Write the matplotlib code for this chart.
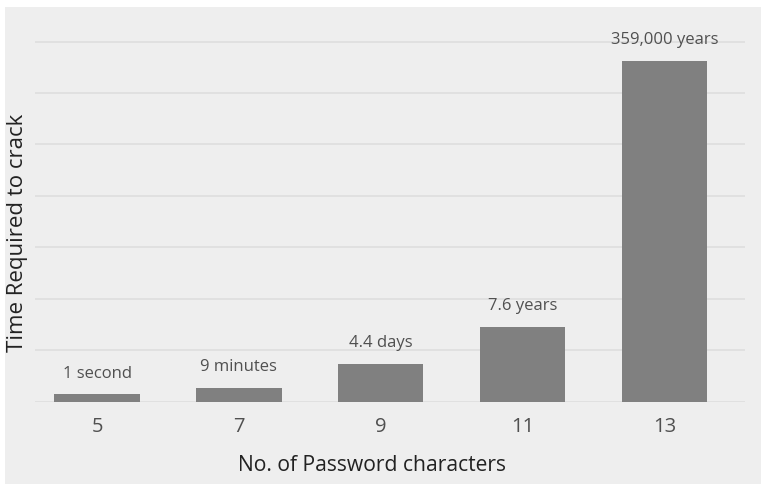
import matplotlib
matplotlib.use("Agg")
import matplotlib.pyplot as plt
from matplotlib.patches import Rectangle

# Chart data (bar heights, arbitrary units)
char_counts = ["5", "7", "9", "11", "13"]
crack_heights = [0.14, 0.26, 0.74, 1.45, 6.62]
crack_labels = ["1 second", "9 minutes", "4.4 days", "7.6 years", "359,000 years"]

BG = "#eeeeee"
BAR = "#808080"
GRID = "#dcdcdc"

plt.rcParams["font.family"] = ["Open Sans", "DejaVu Sans"]


def plot_crack_times():
    fig = plt.figure(figsize=(7.61, 4.85), dpi=100, facecolor="white")
    # gray panel behind everything, with a thin white border top/left
    panel = Rectangle((5 / 761, 0), 1 - 5 / 761, 1 - 8 / 485,
                      transform=fig.transFigure, facecolor=BG,
                      edgecolor="none", zorder=-10)
    fig.add_artist(panel)

    ax = fig.add_axes([35 / 761, (485 - 402.7) / 485, 710 / 761, (402.7 - 22) / 485])
    ax.set_facecolor(BG)

    x = list(range(len(char_counts)))
    ax.bar(x, crack_heights, width=0.6, color=BAR, zorder=3)

    for xi, h, lab in zip(x, crack_heights, crack_labels):
        ax.annotate(lab, (xi, h), xytext=(0, 10), textcoords="offset points",
                    ha="center", va="bottom", fontsize=12, color="#505050")

    ax.set_xlim(-0.437, 4.566)
    ax.set_ylim(0, 7.4)
    ax.set_yticks(range(8))
    ax.set_yticklabels([])
    ax.yaxis.grid(True, color=GRID, linewidth=1.1, zorder=0)
    ax.set_axisbelow(True)

    ax.set_xticks(x)
    ax.set_xticklabels(char_counts, fontsize=14.5, color="#505050")
    ax.tick_params(axis="x", length=0, pad=10)
    ax.tick_params(axis="y", length=0)
    for s in ax.spines.values():
        s.set_visible(False)

    fig.text(371.7 / 761, 1 - 466 / 485, "No. of Password characters",
             ha="center", va="center", fontsize=15.2, color="#222222")
    fig.text(18 / 761, 1 - 233 / 485, "Time Required to crack",
             ha="center", va="center", rotation=90, fontsize=16, color="#222222")

    fig.savefig("out.png", dpi=100, facecolor="white")


def main():
    plot_crack_times()


if __name__ == "__main__":
    main()
